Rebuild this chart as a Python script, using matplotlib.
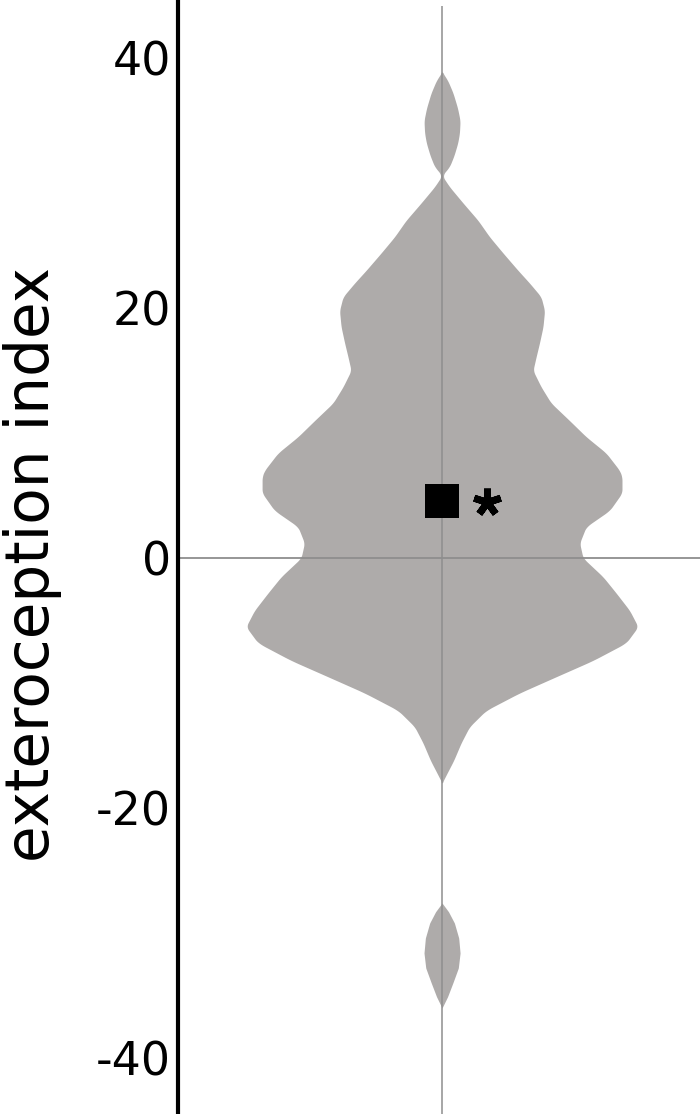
import numpy as np
import matplotlib
matplotlib.use('Agg')
import matplotlib.pyplot as plt

# violin outline: index value -> relative half width
body_y = [38.9, 38.2, 37.2, 36.0, 35.0, 34.0, 33.2, 32.2, 31.3, 30.6, 29.7,
          28.4, 27.0, 25.7, 24.4, 23.0, 22.0, 20.9, 19.8, 18.5, 17.2, 16.1,
          15.0, 13.7, 12.4, 11.0, 9.7, 8.4, 7.0, 6.5, 5.2, 3.8, 2.5, 1.2,
          0.0, -1.5, -2.8, -4.2, -5.5, -6.8, -8.2, -9.5, -10.8, -12.2,
          -13.5, -14.8, -16.2, -17.2, -18.0]
body_w = [0.0, 0.029, 0.056, 0.079, 0.092, 0.089, 0.080, 0.061, 0.038, 0.0,
          0.038, 0.107, 0.184, 0.242, 0.311, 0.388, 0.446, 0.505, 0.523,
          0.515, 0.497, 0.480, 0.464, 0.505, 0.556, 0.650, 0.735, 0.837,
          0.906, 0.918, 0.918, 0.855, 0.735, 0.702, 0.719, 0.821, 0.888,
          0.957, 1.0, 0.939, 0.770, 0.582, 0.395, 0.224, 0.140, 0.097,
          0.059, 0.026, 0.0]

# separate lobe at the bottom
lobe_y = [-27.6, -28.3, -29.2, -30.4, -31.6, -32.8, -34.0, -35.1, -36.0]
lobe_w = [0.0, 0.033, 0.063, 0.085, 0.092, 0.083, 0.055, 0.028, 0.0]

mean_value = 4.6
ticks = [-40, -20, 0, 20, 40]
ylabel = 'exteroception index'

violin_col = '#aeabaa'
line_col = '#8e8e8e'

fig = plt.figure(figsize=(7, 11.14), dpi=100)
ax = fig.add_axes([178/700., 0, 522/700., 1])

def draw_part(ys, ws, win=9):
    yy = np.linspace(min(ys), max(ys), 800)
    ww = np.interp(yy, ys[::-1], ws[::-1])
    # light smoothing of the outline, just for drawing
    k = np.ones(win) / win
    sm = np.convolve(np.pad(ww, win // 2, mode='edge'), k, mode='valid')
    sm = np.minimum(sm, ww + 0.01)
    sm[ww == 0] = 0
    ax.fill_betweenx(yy, -sm, sm, color=violin_col, lw=0, zorder=1)

draw_part(body_y, body_w)
draw_part(lobe_y, lobe_w)

ax.axhline(0, color=line_col, lw=1.3, zorder=2)
ax.vlines(0, -44.5, 44.2, color=line_col, lw=1.1, zorder=2)

ax.plot([0], [mean_value], 's', color='black', markersize=25, mew=0, zorder=3)
ax.plot([0.23], [mean_value - 0.15], marker=(5, 2, 0), color='black',
        markersize=20, mew=5, ls='none', zorder=3)

ax.set_xlim(-1.347, 1.316)
ax.set_ylim(-44.48, 44.64)
ax.set_xticks([])
ax.set_yticks(ticks)
ax.set_yticklabels([str(t) for t in ticks])
ax.tick_params(axis='y', length=0, pad=5, labelsize=33)
for s in ['top', 'right', 'bottom']:
    ax.spines[s].set_visible(False)
ax.spines['left'].set_linewidth(3)
ax.spines['left'].set_color('black')
ax.patch.set_alpha(0)

fig.text(33/700., 1 - 565/1114., ylabel, rotation=90, fontsize=43,
         ha='center', va='center')

fig.savefig('out.png', dpi=100)
